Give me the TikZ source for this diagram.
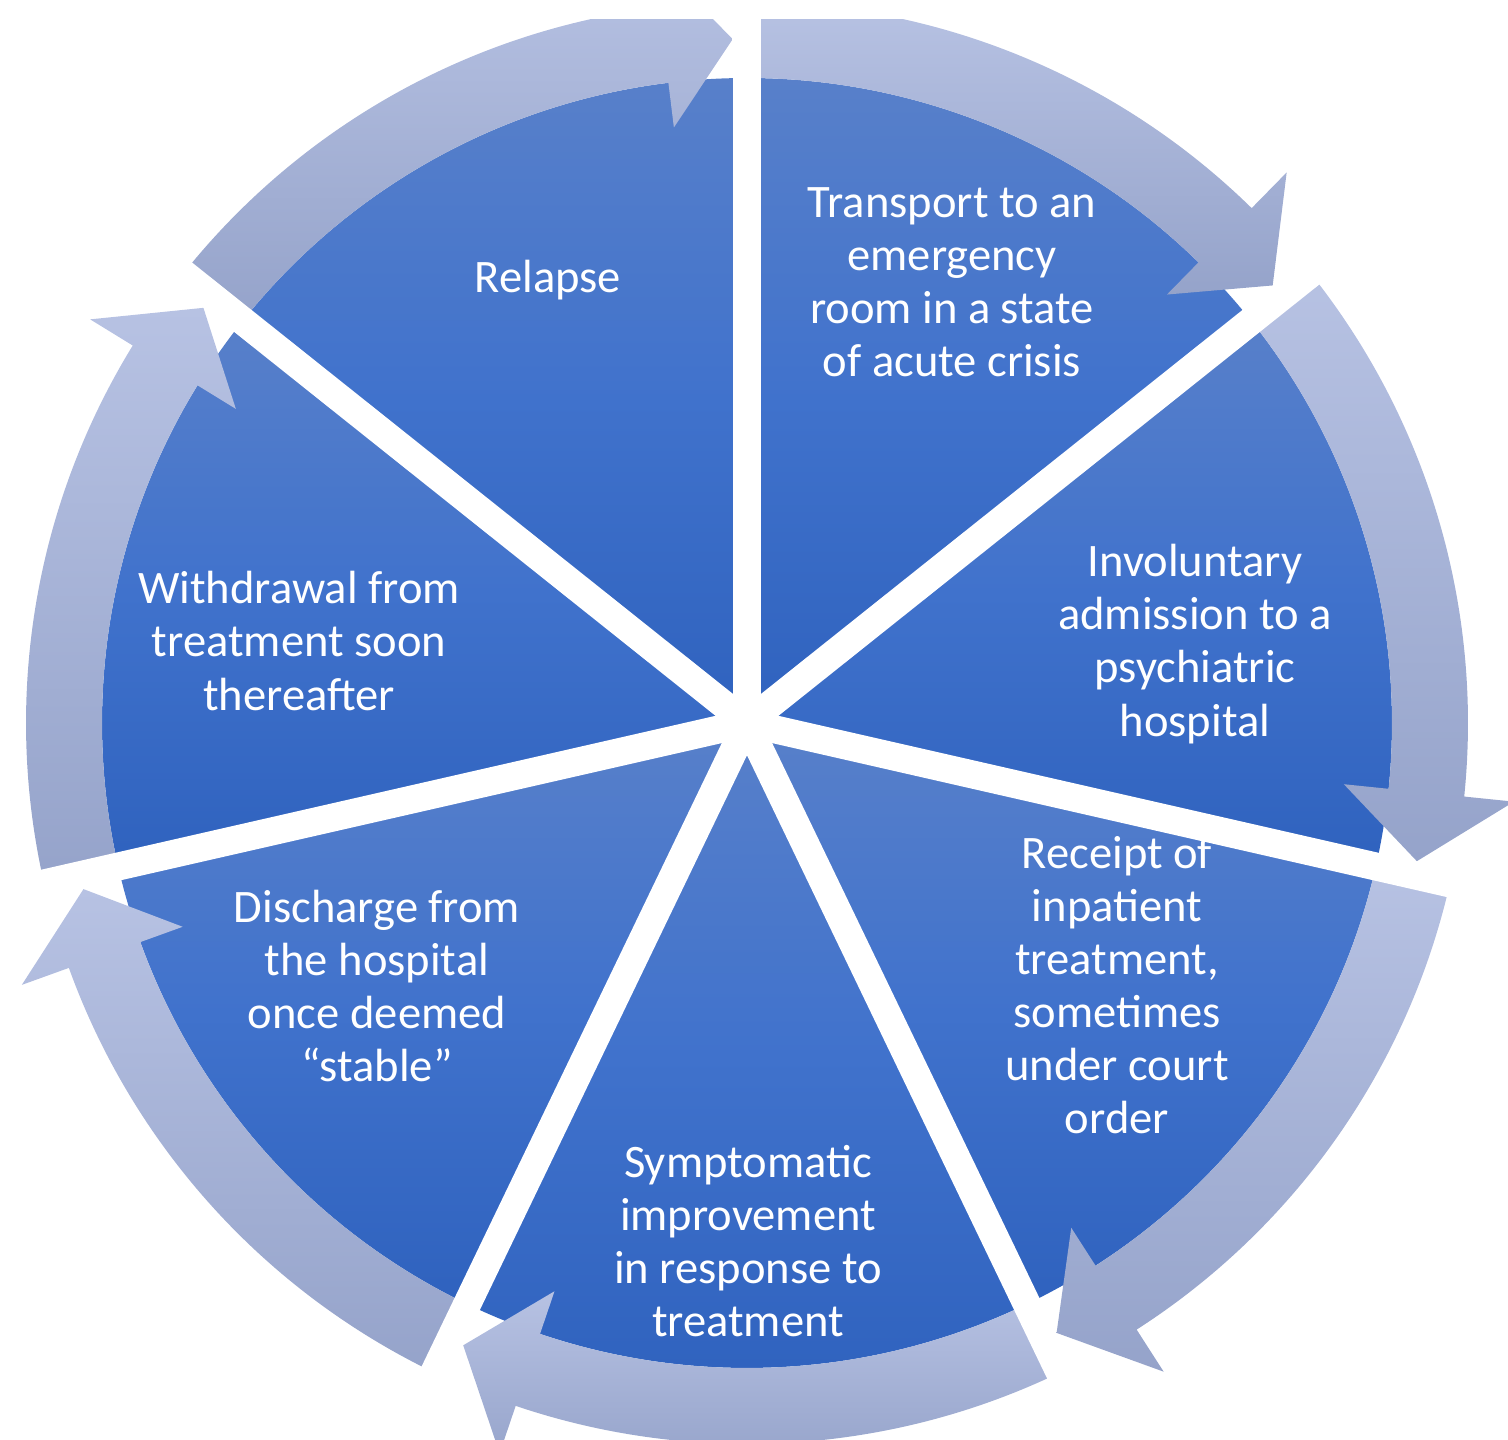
\documentclass[tikz,border=0pt]{standalone}
\usepackage{fontspec}
\setmainfont{Carlito}

\definecolor{segtop}{RGB}{88,128,202}
\definecolor{segmid}{RGB}{64,114,204}
\definecolor{segbot}{RGB}{47,98,190}
\definecolor{ringtop}{RGB}{183,194,227}
\definecolor{ringbot}{RGB}{149,163,202}

\begin{document}
\begin{tikzpicture}[x=0.02cm, y=0.02cm,
    segment/.style={top color=segtop, bottom color=segbot, middle color=segmid},
    ringarrow/.style={top color=ringtop, bottom color=ringbot},
    steptext/.style={text=white, align=center, inner sep=0pt,
        font=\fontsize{26.5pt}{30.2pt}\selectfont},
    gapline/.style={white, line width=0.56cm}]
    % Canvas
    \useasboundingbox (-747,-717) rectangle (761,723);
    \begin{scope}
    \clip (-747,-717) rectangle (761,703);

    % Pie segments
    \foreach \k in {0,...,6} {
        \pgfmathsetmacro\angA{90-\k*360/7}
        \pgfmathsetmacro\angE{\angA-360/7}
        \shade[segment] (0,0) -- (\angA:645)
            arc[start angle=\angA, end angle=\angE, radius=645] -- cycle;
    }

    % Ring arrows
    \foreach \k in {0,...,6} {
        \pgfmathsetmacro\angA{90-\k*360/7}
        \pgfmathsetmacro\angT{\angA-360/7+1.2}
        \pgfmathsetmacro\angH{\angT+5.8}
        \shade[ringarrow] (\angA:645) -- (\angA:721)
            arc[start angle=\angA, end angle=\angH, radius=721]
            -- (\angH:771) -- (\angT:684) -- (\angH:600) -- (\angH:645)
            arc[start angle=\angH, end angle=\angA, radius=645] -- cycle;
    }

    % Step texts
    \node[steptext] (relapse) at (-199,443) {Relapse};
    \node[steptext] (transport) at (205,441) {Transport to an\\emergency\\room in a state\\of acute crisis};
    \node[steptext] (admission) at (448,79) {Involuntary\\admission to a\\psychiatric\\hospital};
    \node[steptext] (inpatient) at (370,-262) {Receipt of\\inpatient\\treatment,\\sometimes\\under court\\order};
    \node[steptext] (improvement) at (1,-518) {Symptomatic\\improvement\\in response to\\treatment};
    \node[steptext] (discharge) at (-370,-263) {Discharge from\\the hospital\\once deemed\\“stable”};
    \node[steptext] (withdrawal) at (-448,82) {Withdrawal from\\treatment soon\\thereafter};

    % Gaps
    \foreach \k in {0,...,6}
        \draw[gapline] (0,0) -- ({90-\k*360/7}:800);
    \end{scope}
\end{tikzpicture}
\end{document}
